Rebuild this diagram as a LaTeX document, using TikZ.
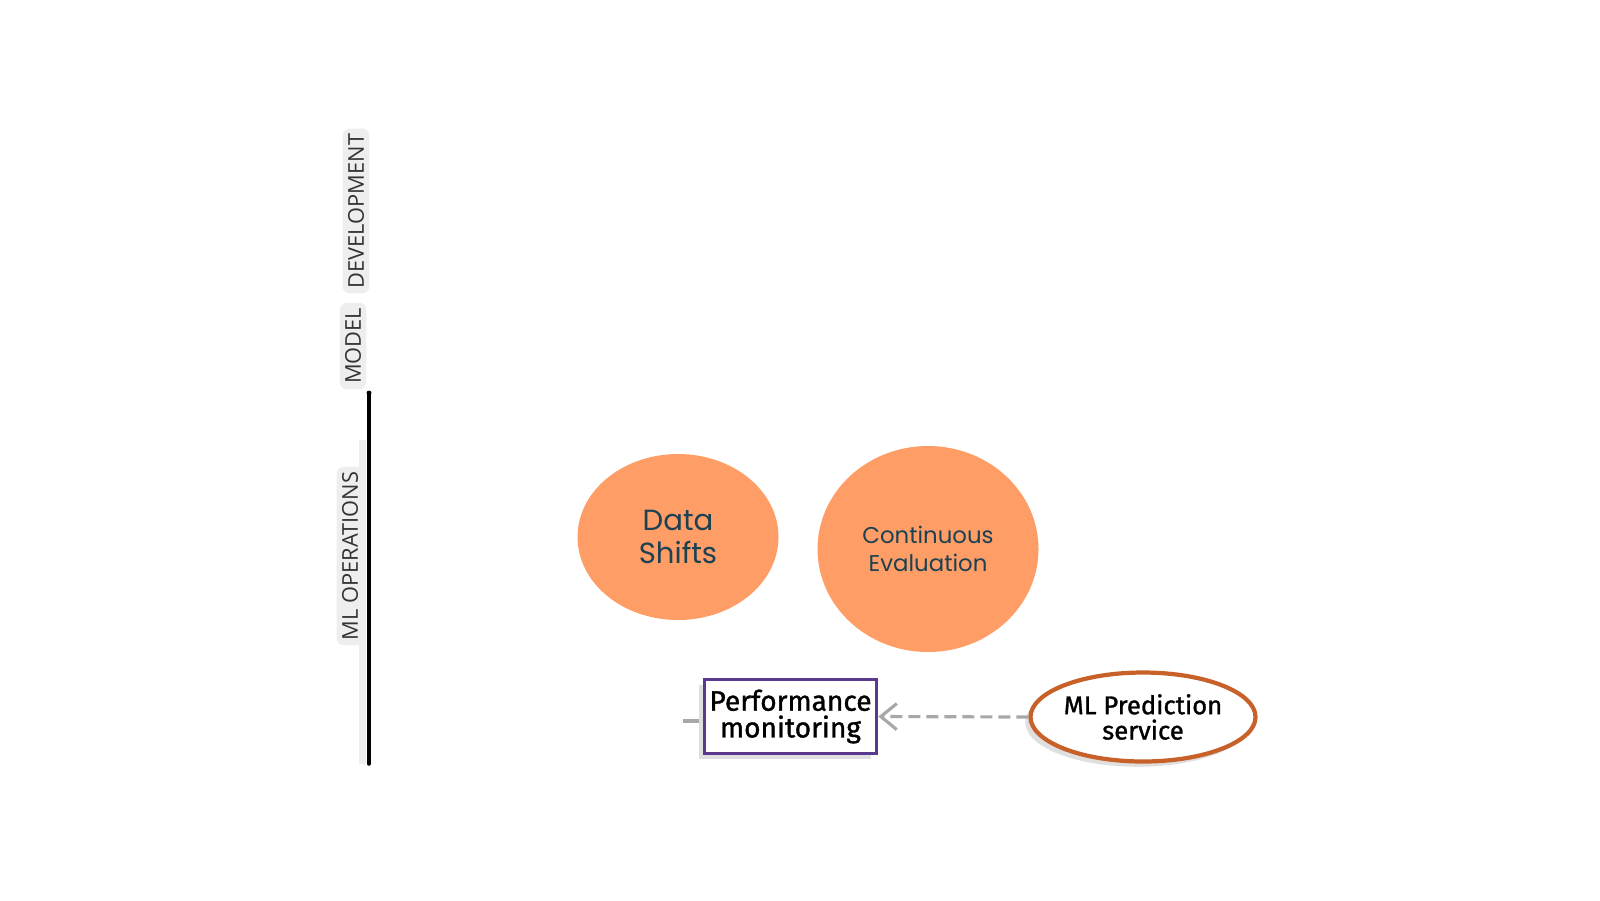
\documentclass[tikz,border=0pt]{standalone}
\usepackage{fontspec}
\setmainfont{Poppins}
\newfontfamily\handfont[FakeBold=1.2]{Fira Sans}
\newfontfamily\capsfont{Open Sans}
\usepackage{tikz}
\usetikzlibrary{shapes.geometric, arrows.meta, positioning, shadows}
\definecolor{bubbleorange}{RGB}{255,157,102}
\definecolor{darkteal}{RGB}{27,65,82}
\definecolor{monpurple}{RGB}{91,58,142}
\definecolor{svcorange}{RGB}{200,96,42}
\definecolor{dashgray}{RGB}{168,168,168}
\definecolor{tagbg}{RGB}{238,238,238}

\begin{document}
\begin{tikzpicture}[
    bubble/.style={ellipse, fill=bubbleorange, inner sep=0pt, align=center, text=darkteal},
    monbox/.style={rectangle, draw=monpurple, line width=1pt, fill=white, minimum width=1.72cm, minimum height=0.74cm, align=center, inner sep=1pt,
        font=\handfont\fontsize{8}{7.6}\selectfont, drop shadow={opacity=0.25, shadow xshift=-1.5pt, shadow yshift=-1.5pt}},
    svcellipse/.style={ellipse, draw=svcorange, line width=1.2pt, fill=white, minimum width=2.25cm, minimum height=0.89cm, align=center, inner sep=0pt,
        font=\handfont\fontsize{7.3}{7.2}\selectfont, drop shadow={opacity=0.25, shadow xshift=-1.5pt, shadow yshift=-1.5pt}},
    arrow/.style={-{Straight Barb[length=1.6mm, width=2.6mm]}, line width=0.9pt, dashgray, dash pattern=on 1.2mm off 0.6mm},
    phase/.style={rotate=90, fill=tagbg, rounded corners=2pt, inner sep=1.5pt, text=black!80, font=\capsfont\fontsize{6.2}{6}\selectfont}
]
\useasboundingbox (0,0) rectangle (16,-9);

% Phase labels and timeline
\node[phase] (dev) at (3.56,-2.11) {DEVELOPMENT};
\node[phase] (model) at (3.53,-3.46) {MODEL};
\node[phase] (ops) at (3.50,-5.56) {ML OPERATIONS};
\coordinate (linetop) at (3.69,-3.93);
\coordinate (linebot) at (3.69,-7.64);
\fill[tagbg] (3.59,-4.40) rectangle (3.66,-7.64);
\draw[line width=1pt, line cap=round] (linetop) -- (linebot);
\fill (linetop) circle (0.7pt);

% Concepts
\node[bubble, minimum width=2.01cm, minimum height=1.66cm, font=\fontsize{8.3}{9.4}\selectfont] (shifts) at (6.78,-5.37) {Data\\Shifts};
\node[bubble, minimum width=2.21cm, minimum height=2.06cm, font=\fontsize{6.5}{7.9}\selectfont] (contev) at (9.28,-5.49) {Continuous\\Evaluation};

% Monitoring loop
\node[monbox] (monitor) at (7.905,-7.165) {Performance\\monitoring};
\node[svcellipse] (predsvc) at (11.43,-7.17) {ML Prediction\\service};
\coordinate (stubin) at (6.99,-7.21);
\coordinate (stubout) at (6.83,-7.21);

% Arrows
\draw[arrow] (predsvc.west) -- (monitor.east);
\draw[line width=0.9pt, dashgray] (stubin) -- (stubout);

\end{tikzpicture}
\end{document}
